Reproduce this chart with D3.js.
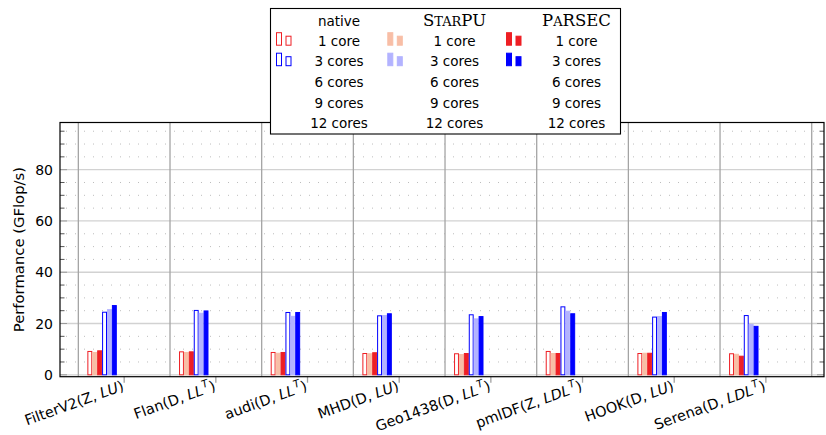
<!DOCTYPE html>
<html>
<head>
<meta charset="utf-8">
<script src="https://cdn.jsdelivr.net/npm/d3@7"></script>
<style>
  body { margin: 0; background: #fff; }
  svg { display: block; }
  text { font-family: "DejaVu Sans", sans-serif; fill: #000; }
</style>
</head>
<body>
<svg id="chart" width="826" height="435"></svg>
<script>
// Test matrices, their arithmetic and factorization
const matrices = ["FilterV2", "Flan", "audi", "MHD", "Geo1438", "pmlDF", "HOOK", "Serena"];
const arithmetic = ["Z", "D", "D", "D", "D", "Z", "D", "D"];
const factorization = ["LU", "LL", "LL", "LU", "LL", "LDL", "LU", "LDL"];
const transposed = [false, true, true, false, true, true, false, true];

// Runtimes and core counts
const runtimes = ["native", "StarPU", "PaRSEC"];
const coreLabels = ["1 core", "3 cores", "6 cores", "9 cores", "12 cores"];

// Performance in GFlop/s
const native1 = [9.3, 9.15, 8.9, 8.5, 8.4, 9.3, 8.5, 8.4];
const starpu1 = [8.9, 8.9, 8.6, 8.4, 8.1, 8.5, 8.6, 8.2];
const parsec1 = [9.55, 9.15, 8.9, 8.8, 8.5, 8.5, 8.6, 7.45];
const native3 = [24.6, 25.3, 24.5, 23.2, 23.6, 26.7, 22.7, 23.3];
const starpu3 = [25.6, 24.2, 23.0, 23.3, 22.0, 25.0, 22.9, 19.9];
const parsec3 = [27.2, 25.1, 24.5, 24.0, 22.9, 24.0, 24.5, 19.1];
const noData = [];

// Y axis ticks
const yMajorTicks = [0, 20, 40, 60, 80];

// series table: one entry per (core count, runtime) slot
const seriesValues = [
  [native1, starpu1, parsec1],
  [native3, starpu3, parsec3],
  [noData, noData, noData],
  [noData, noData, noData],
  [noData, noData, noData]
];
const series = [];
coreLabels.forEach((c, ci) => runtimes.forEach((r, ri) => {
  series.push({ cores: c, runtime: r, ci, ri, slot: ci * 3 + ri, values: seriesValues[ci][ri] });
}));

// colour per core count (light tint used by StarPU)
const strong = ["#ee1f24", "#0000ff", "#000", "#000", "#000"];
const light = ["#f8bea6", "#b3b3ff", "#aaa", "#aaa", "#aaa"];
function barStyle(ri, ci) {
  if (ri === 0) return { fill: "#fff", stroke: strong[ci] };
  if (ri === 1) return { fill: light[ci], stroke: light[ci] };
  return { fill: strong[ci], stroke: strong[ci] };
}

const svg = d3.select("#chart");
const L = 60, R = 824, T = 122.5, B = 376.7;

const x = d3.scaleLinear().domain([-0.7, 7.634]).range([L, R]);
const y = d3.scaleLinear().domain([-0.74, 98.4]).range([B, T]);
const slot = d3.scaleBand().domain(d3.range(15)).range([-0.4015, 0.4015]).padding(0);

// grid
const grid = svg.append("g");
const minorVals = d3.range(5, 100, 5).filter(v => v % 20 !== 0 && y(v) > T + 1);
grid.selectAll("line.minor").data(minorVals).join("line")
  .attr("x1", L + 6).attr("x2", R - 4)
  .attr("y1", d => y(d)).attr("y2", d => y(d))
  .attr("stroke", "#bdbdbd").attr("stroke-width", 1)
  .attr("stroke-dasharray", "1,8");
grid.selectAll("line.major").data(yMajorTicks).join("line")
  .attr("x1", L).attr("x2", R)
  .attr("y1", d => y(d)).attr("y2", d => y(d))
  .attr("stroke", "#d2d2d2").attr("stroke-width", 1.3);
grid.selectAll("line.vgrid").data(d3.range(-0.5, 7.6, 1)).join("line")
  .attr("x1", d => x(d)).attr("x2", d => x(d))
  .attr("y1", T).attr("y2", B)
  .attr("stroke", "#a4a4a4").attr("stroke-width", 1.3);

// axis ticks (inside on left/right, minor + major)
const ticks = svg.append("g");
d3.range(0, 100, 5).filter(v => y(v) > T + 1).forEach(v => {
  const major = v % 20 === 0;
  [[L, 1], [R, -1]].forEach(([x0, dir]) => {
    ticks.append("line")
      .attr("x1", x0).attr("x2", x0 + dir * (major ? 7 : 4.5))
      .attr("y1", y(v)).attr("y2", y(v))
      .attr("stroke", major ? "#9a9a9a" : "#555").attr("stroke-width", 1);
  });
});
ticks.selectAll("line.xt").data(d3.range(8)).join("line")
  .attr("x1", d => x(d)).attr("x2", d => x(d))
  .attr("y1", B).attr("y2", B + 6)
  .attr("stroke", "#a0a0a0").attr("stroke-width", 1.3);

// bars
const bars = svg.append("g");
series.forEach(s => {
  const st = barStyle(s.ri, s.ci);
  bars.selectAll(null).data(s.values).join("rect")
    .attr("x", (d, i) => x(i + slot(s.slot)) + 0.5)
    .attr("width", x(slot.bandwidth()) - x(0) - 1)
    .attr("y", d => y(d) + 0.5)
    .attr("height", d => y(0) - y(d) - 0.5)
    .attr("fill", st.fill).attr("stroke", st.stroke).attr("stroke-width", 1);
});

// frame
svg.append("rect").attr("x", L).attr("y", T).attr("width", R - L).attr("height", B - T)
  .attr("fill", "none").attr("stroke", "#000").attr("stroke-width", 1.2);

// y tick labels
svg.append("g").selectAll("text").data(yMajorTicks).join("text")
  .attr("x", L - 7).attr("y", d => y(d)).attr("dy", "0.36em")
  .attr("text-anchor", "end").attr("font-size", 14).text(d => d);

// y title
svg.append("text")
  .attr("transform", `translate(19,${(T + B) / 2}) rotate(-90)`)
  .attr("text-anchor", "middle").attr("dy", "0.35em").attr("font-size", 14.8)
  .text("Performance (GFlop/s)");

// x labels
const xl = svg.append("g");
matrices.forEach((m, i) => {
  const t = xl.append("text")
    .attr("transform", `translate(${x(i) - 3},${B + 3}) rotate(-20)`)
    .attr("text-anchor", "end").attr("font-size", 14.5).attr("dy", "0.75em");
  t.append("tspan").text(`${m}(${arithmetic[i]}, `);
  t.append("tspan").attr("font-style", "italic").text(factorization[i]);
  if (transposed[i]) {
    t.append("tspan").attr("font-style", "italic").attr("font-size", 10.5).attr("dy", "-0.6em").attr("dx", 1).text("T");
    t.append("tspan").attr("dy", "0.42em").text(")");
  } else {
    t.append("tspan").text(")");
  }
});

// legend
const lg = svg.append("g");
lg.append("rect").attr("x", 270.5).attr("y", 8.5).attr("width", 350).attr("height", 125.5)
  .attr("fill", "#fff").attr("stroke", "#000").attr("stroke-width", 1.1);
const colText = [339, 454.5, 576.5];
const colImg = [276, 387.3, 506];
const rowBase = [45.7, 66.2, 86.9, 107.5, 128];

// column headers
lg.append("text").attr("x", colText[0]).attr("y", 25.5).attr("text-anchor", "middle")
  .attr("font-size", 13.5).text(runtimes[0]);
function smallCaps(cx, parts) {
  const t = lg.append("text").attr("x", cx).attr("y", 25.5).attr("text-anchor", "middle")
    .style("font-family", "'DejaVu Serif', serif");
  parts.forEach(([s, big]) => t.append("tspan").attr("font-size", big ? 16.5 : 13).text(s));
}
smallCaps(colText[1], [["S", 1], ["TAR", 0], ["PU", 1]]);
smallCaps(colText[2], [["P", 1], ["A", 0], ["RSEC", 1]]);

runtimes.forEach((r, ri) => {
  coreLabels.forEach((c, ci) => {
    lg.append("text").attr("x", colText[ri]).attr("y", rowBase[ci])
      .attr("text-anchor", "middle").attr("font-size", 13.5).text(c);
  });
  // legend images for the core counts that carry data
  series.filter(s => s.ri === ri && s.values.length).forEach(s => {
    const st = barStyle(ri, s.ci);
    const b = rowBase[s.ci];
    [[0, 13.5], [9.5, 10]].forEach(([dx, h]) => {
      lg.append("rect").attr("x", colImg[ri] + dx + 0.5).attr("y", b - h + 0.5)
        .attr("width", 5).attr("height", h - 1)
        .attr("fill", st.fill).attr("stroke", st.stroke).attr("stroke-width", 1);
    });
  });
});
</script>
</body>
</html>
